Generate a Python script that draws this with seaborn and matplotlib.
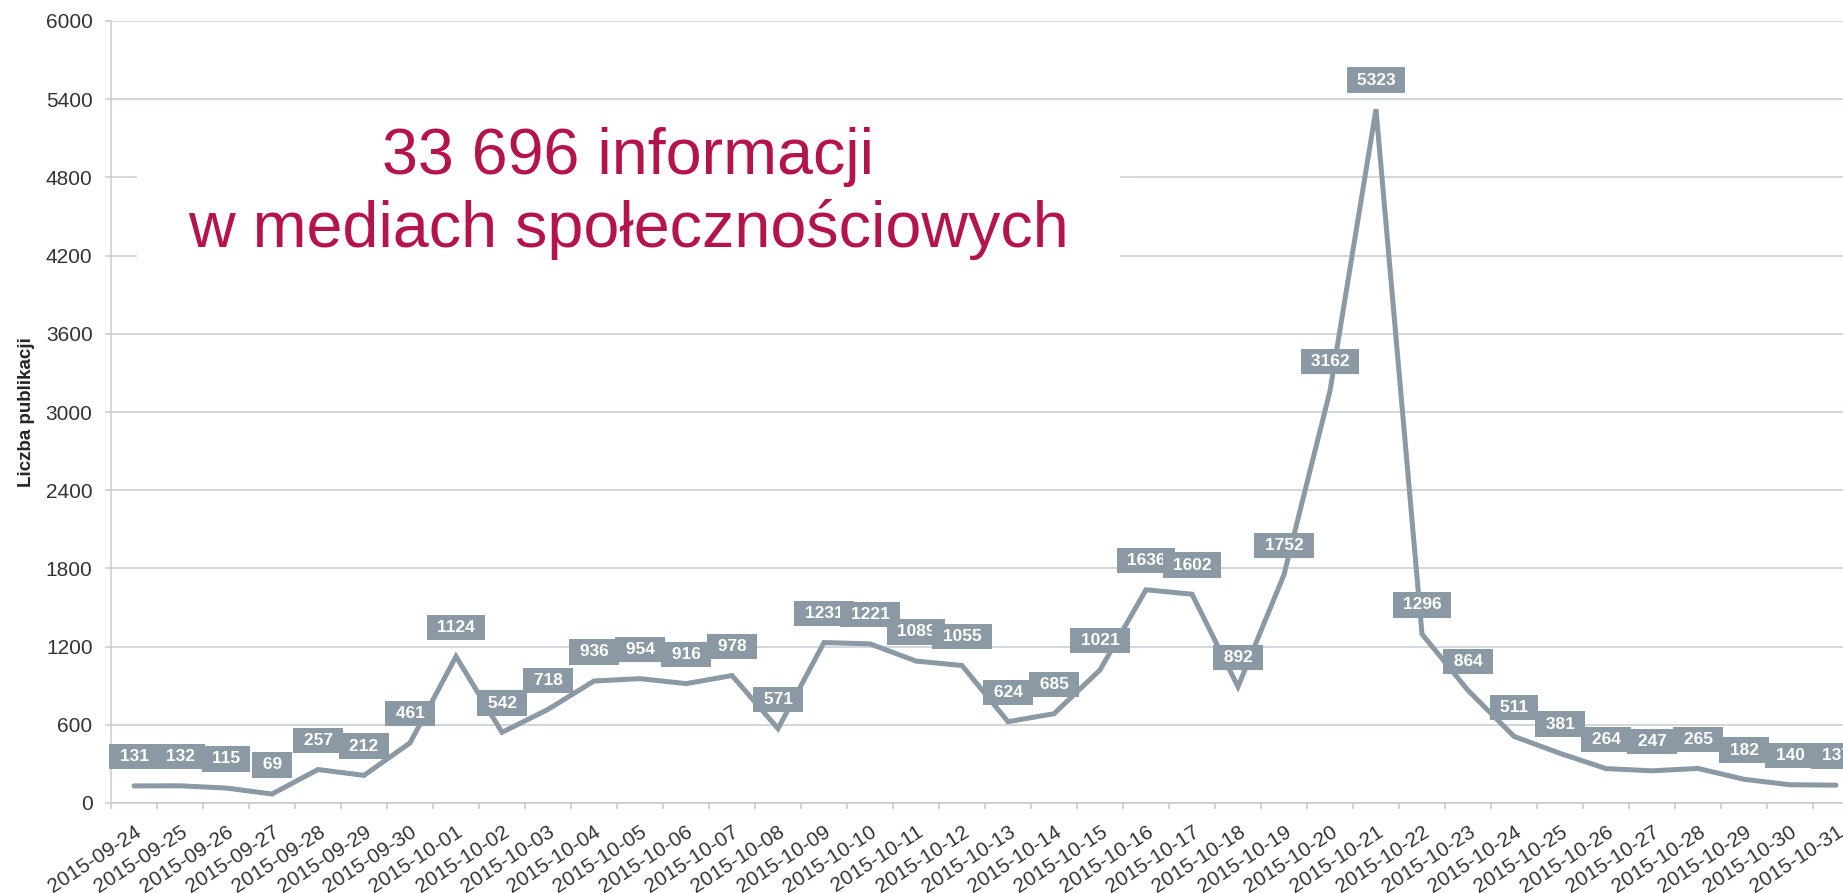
import matplotlib
matplotlib.use("Agg")
import matplotlib.pyplot as plt
import matplotlib.transforms as mtransforms
from matplotlib.patches import Rectangle
import seaborn as sns
import pandas as pd
import numpy as np

dates = ["2015-09-24", "2015-09-25", "2015-09-26", "2015-09-27", "2015-09-28",
         "2015-09-29", "2015-09-30", "2015-10-01", "2015-10-02", "2015-10-03",
         "2015-10-04", "2015-10-05", "2015-10-06", "2015-10-07", "2015-10-08",
         "2015-10-09", "2015-10-10", "2015-10-11", "2015-10-12", "2015-10-13",
         "2015-10-14", "2015-10-15", "2015-10-16", "2015-10-17", "2015-10-18",
         "2015-10-19", "2015-10-20", "2015-10-21", "2015-10-22", "2015-10-23",
         "2015-10-24", "2015-10-25", "2015-10-26", "2015-10-27", "2015-10-28",
         "2015-10-29", "2015-10-30", "2015-10-31"]
counts = [131, 132, 115, 69, 257, 212, 461, 1124, 542, 718,
          936, 954, 916, 978, 571, 1231, 1221, 1089, 1055, 624,
          685, 1021, 1636, 1602, 892, 1752, 3162, 5323, 1296, 864,
          511, 381, 264, 247, 265, 182, 140, 137]
yticks = [0, 600, 1200, 1800, 2400, 3000, 3600, 4200, 4800, 5400, 6000]
title_lines = ["33 696 informacji", "w mediach społecznościowych"]
ylabel = "Liczba publikacji"

LINE = "#8A99A3"
GRID = "#C6CBD0"
TITLE_C = "#B5134B"

sns.set_theme(style="white")
plt.rcParams["font.family"] = ["Liberation Sans", "DejaVu Sans"]

df = pd.DataFrame({"pos": np.arange(len(dates)), "count": counts, "date": dates})

fig = plt.figure(figsize=(18.43, 8.93), dpi=100)
ax = fig.add_axes([111 / 1843, 1 - 803 / 893, 1748 / 1843, 782 / 893])

sns.lineplot(data=df, x="pos", y="count", ax=ax, color=LINE, linewidth=3.6,
             estimator=None, sort=False, zorder=2, solid_capstyle="round",
             solid_joinstyle="miter")

ax.set_xlim(-0.5, len(dates) - 0.5)
ax.set_ylim(0, 6000)
ax.set_yticks(yticks)
ax.set_yticklabels([str(t) for t in yticks], fontsize=15, color="#333333")
ax.set_xticks(df["pos"])
ax.set_xticklabels(dates, rotation=33, ha="right", rotation_mode="anchor",
                   fontsize=15, color="#333333")
ax.set_xticks(np.arange(-0.5, len(dates), 1.0), minor=True)
ax.tick_params(axis="x", which="major", length=0, pad=14)
ax.tick_params(axis="x", which="minor", length=4.3, width=1.1, color=GRID,
               direction="out", bottom=True)
ax.tick_params(axis="y", which="major", length=4.3, width=1.1, color=GRID,
               direction="out", left=True, pad=9)

ax.grid(axis="y", color=GRID, linewidth=1.1)
ax.grid(axis="x", visible=False)
ax.set_axisbelow(True)
for s in ["top", "right"]:
    ax.spines[s].set_visible(False)
for s in ["left", "bottom"]:
    ax.spines[s].set_color(GRID)
    ax.spines[s].set_linewidth(1.1)

ax.set_xlabel("")
ax.set_ylabel(ylabel, fontsize=13.5, fontweight="bold", color="#262626")
ax.yaxis.set_label_coords(-0.0435, 0.5)

# white panel behind the headline (hides gridlines)
trans = mtransforms.blended_transform_factory(ax.transAxes, ax.transData)
ax.add_patch(Rectangle((0.0149, 3900), 0.5623, 1250, transform=trans,
                       facecolor="white", edgecolor="none", zorder=1))
ax.text(0.2958, 4826, title_lines[0], transform=trans, ha="center",
        va="baseline", fontsize=46.5, color=TITLE_C, zorder=1.5)
ax.text(0.2958, 4266, title_lines[1], transform=trans, ha="center",
        va="baseline", fontsize=46.5, color=TITLE_C, zorder=1.5)

for x, v in zip(df["pos"], df["count"]):
    ax.annotate(f" {v} ", (x, v), xytext=(0, 21), textcoords="offset points",
                ha="center", va="center", color="white", fontweight="bold",
                fontsize=12.5, zorder=3, annotation_clip=False,
                bbox=dict(boxstyle="square,pad=0.3", fc=LINE, ec="none"))

fig.savefig("out.png", dpi=100)
